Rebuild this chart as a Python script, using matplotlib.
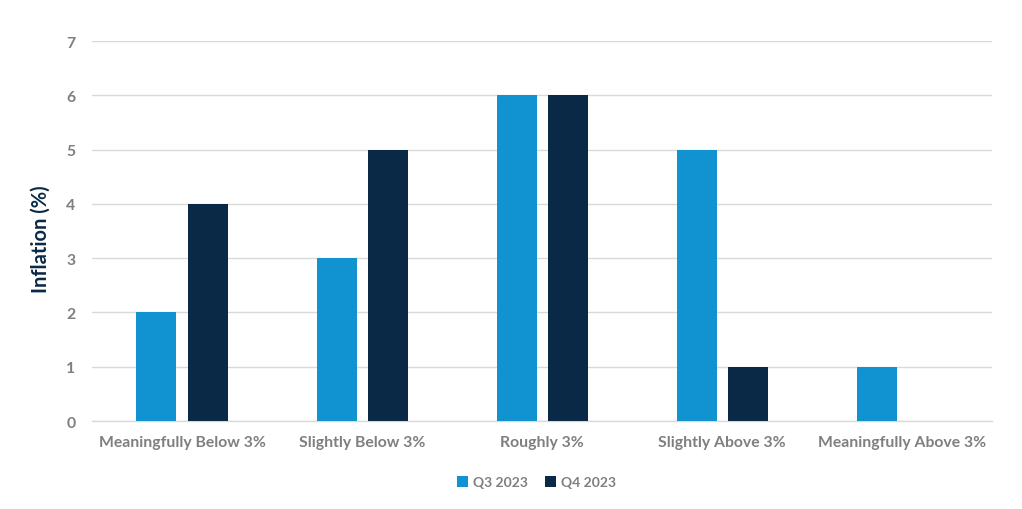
import numpy as np
import matplotlib.pyplot as plt

categories = ['Meaningfully Below 3%', 'Slightly Below 3%', 'Roughly 3%',
              'Slightly Above 3%', 'Meaningfully Above 3%']
q3_2023 = [2, 3, 6, 5, 1]
q4_2023 = [4, 5, 6, 1, 0]

plt.rcParams['font.family'] = ['Lato', 'DejaVu Sans']
plt.rcParams['font.weight'] = 'bold'

light_blue = '#1193D2'
navy = '#0A2947'
grey = '#7F7F7F'

fig = plt.figure(figsize=(10.22, 5.10), dpi=100)
ax = fig.add_axes([0.09, 0.1725, 0.881, 0.7451])

x = np.arange(len(categories))
w = 0.222
ax.bar(x - 0.142, q3_2023, w, color=light_blue, label='Q3 2023', zorder=3)
ax.bar(x + 0.142, q4_2023, w, color=navy, label='Q4 2023', zorder=3)

ax.set_xlim(-0.5, len(categories) - 0.5)
ax.set_ylim(0, 7)
ax.set_yticks(range(0, 8))
ax.set_xticks(x)
ax.set_xticklabels(categories)
ax.grid(axis='y', color='#D9D9D9', linewidth=1, zorder=0)
for s in ['top', 'right', 'left']:
    ax.spines[s].set_visible(False)
ax.spines['bottom'].set_color('#D9D9D9')
ax.spines['bottom'].set_linewidth(1)
ax.tick_params(axis='both', length=0, colors=grey, labelsize=11.3)
ax.tick_params(axis='y', pad=12)
ax.tick_params(axis='x', pad=10)
for lab in ax.get_xticklabels() + ax.get_yticklabels():
    lab.set_fontweight('bold')

ax.set_ylabel('Inflation (%)', color=navy, fontsize=14.5, fontweight='bold', labelpad=11)
ax.yaxis.label.set_y(0.48)

fig.legend(loc='center', bbox_to_anchor=(0.525, 0.053), ncol=2, frameon=False,
           handlelength=0.8, handleheight=0.8, handletextpad=0.4, columnspacing=1.2,
           labelcolor=grey, prop={'size': 10, 'weight': 'bold'})

fig.savefig('out.png', dpi=100)
